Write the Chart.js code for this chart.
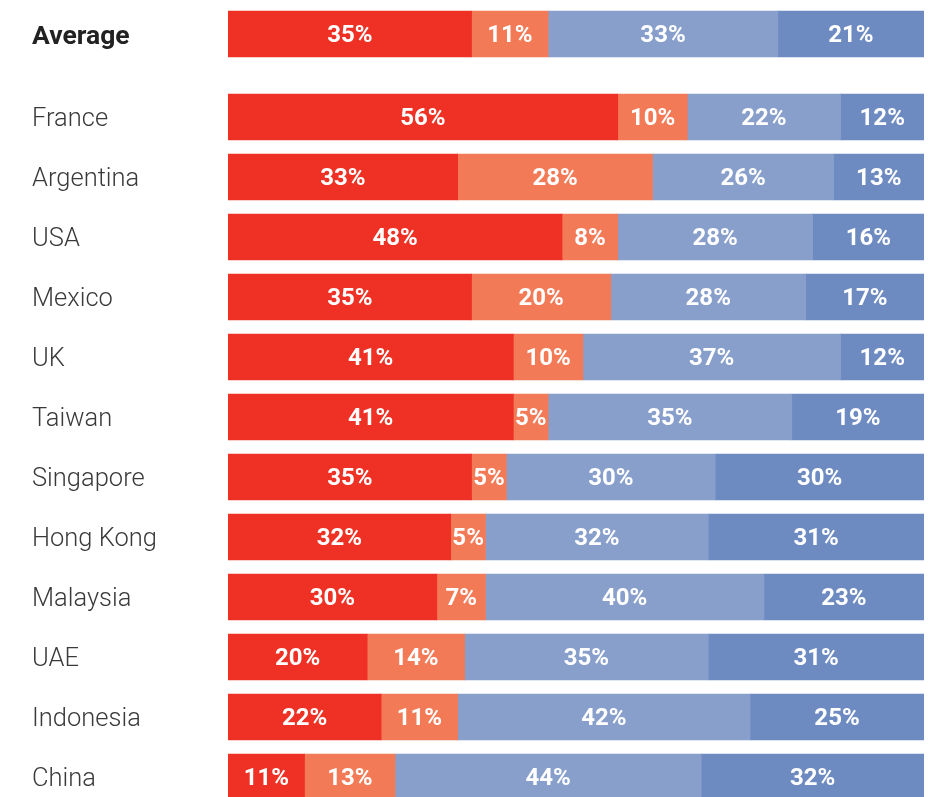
<!DOCTYPE html>
<html>
<head>
<meta charset="utf-8">
<script src="https://cdn.jsdelivr.net/npm/chart.js@4"></script>
<style>
  html, body { margin: 0; padding: 0; background: #fff; overflow: hidden; }
  body { width: 939px; height: 797px; position: relative; }
  #avg-wrap { position: absolute; left: 0; top: 0; width: 939px; height: 68px; }
  #main-wrap { position: absolute; left: 0; top: 87px; width: 939px; height: 720px; }
</style>
</head>
<body>
<div id="avg-wrap"><canvas id="avg-chart"></canvas></div>
<div id="main-wrap"><canvas id="main-chart"></canvas></div>
<script>
// Rows: the first one is the average, shown apart at the top
const categories = ["Average", "France", "Argentina", "USA", "Mexico", "UK", "Taiwan",
    "Singapore", "Hong Kong", "Malaysia", "UAE", "Indonesia", "China"];

const series1 = [35, 56, 33, 48, 35, 41, 41, 35, 32, 30, 20, 22, 11];
const series2 = [11, 10, 28, 8, 20, 10, 5, 5, 5, 7, 14, 11, 13];
const series3 = [33, 22, 26, 28, 28, 37, 35, 30, 32, 40, 35, 42, 44];
const series4 = [21, 12, 13, 16, 17, 12, 19, 30, 31, 23, 31, 25, 32];

const colors = ["#EE3124", "#F37A56", "#889FCB", "#6E8BC1"];

Chart.defaults.font.family = "Roboto, 'Liberation Sans', sans-serif";

// draws the percentage inside each bar segment
const barLabels = {
    id: "barLabels",
    afterDatasetsDraw(chart) {
        const ctx = chart.ctx;
        ctx.save();
        ctx.fillStyle = "#fff";
        ctx.font = "bold 24px Roboto, 'Liberation Sans', sans-serif";
        ctx.textAlign = "center";
        ctx.textBaseline = "middle";
        chart.data.datasets.forEach(function (ds, i) {
            chart.getDatasetMeta(i).data.forEach(function (bar, j) {
                const p = bar.getProps(["x", "base", "y"], true);
                ctx.fillText(ds.data[j] + "%", (p.x + p.base) / 2, p.y + 2);
            });
        });
        ctx.restore();
    }
};

function makeChart(id, labels, from, to, bold) {
    const sets = [series1, series2, series3, series4].map(function (s, i) {
        return {
            data: s.slice(from, to),
            backgroundColor: colors[i],
            borderWidth: 0,
            barThickness: 46
        };
    });
    return new Chart(document.getElementById(id), {
        type: "bar",
        data: { labels: labels, datasets: sets },
        options: {
            indexAxis: "y",
            responsive: true,
            maintainAspectRatio: false,
            animation: false,
            layout: { padding: { left: 32, right: 15, top: 0, bottom: 0 } },
            plugins: { legend: { display: false }, tooltip: { enabled: false } },
            scales: {
                x: { stacked: true, min: 0, max: 100, display: false },
                y: {
                    stacked: true,
                    grid: { display: false },
                    border: { display: false },
                    afterFit: function (scale) {
                        scale.width = 196;
                        // no extra room above/below for the tick labels
                        scale.paddingTop = 0;
                        scale.paddingBottom = 0;
                    },
                    ticks: {
                        crossAlign: "far",
                        labelOffset: 3,
                        color: bold ? "#222" : "#3a3a3a",
                        font: { size: bold ? 26.5 : 25.5, weight: bold ? "bold" : "300" }
                    }
                }
            }
        },
        plugins: [barLabels]
    });
}

makeChart("avg-chart", categories.slice(0, 1), 0, 1, true);
makeChart("main-chart", categories.slice(1), 1, categories.length, false);
</script>
</body>
</html>
